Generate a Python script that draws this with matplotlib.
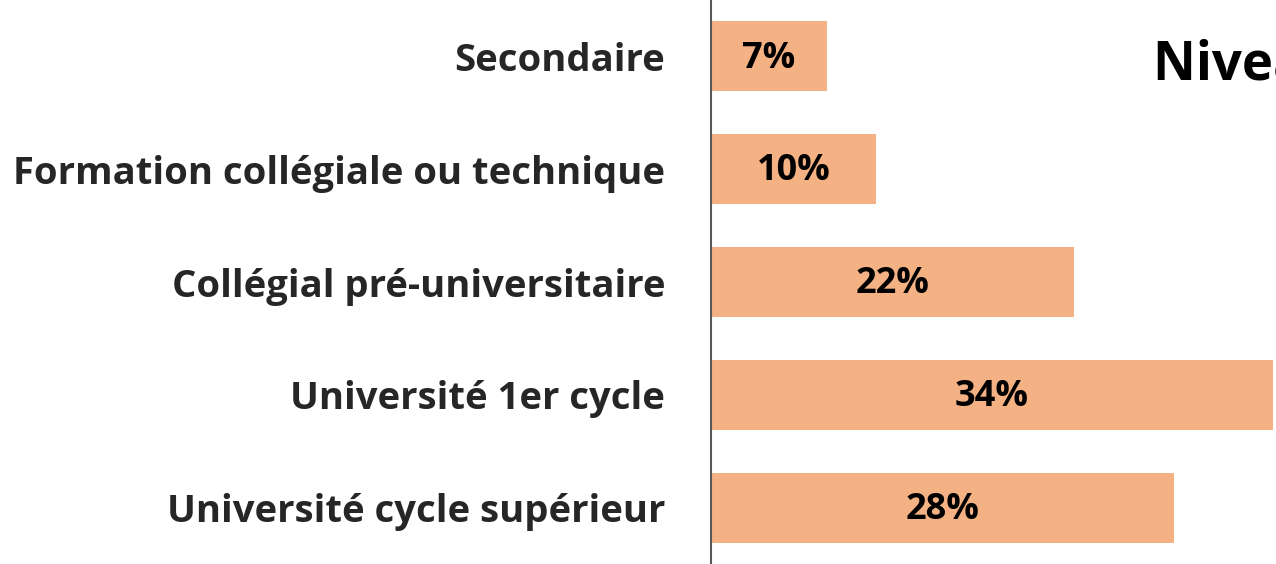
import matplotlib
matplotlib.use('agg')
import matplotlib.pyplot as plt

categories = ['Secondaire', 'Formation collégiale ou technique',
              'Collégial pré-universitaire', 'Université 1er cycle',
              'Université cycle supérieur']
values = [7, 10, 22, 34, 28]
value_labels = ['7%', '10%', '22%', '34%', '28%']

plt.rcParams['font.family'] = ['Open Sans', 'DejaVu Sans']

W, H = 1276, 564
fig = plt.figure(figsize=(W/100, H/100), dpi=100)
ax = fig.add_axes([711/W, 0, (W-711)/W, 1])

ypos = list(range(len(categories)))
ax.barh(ypos, values, height=0.62, color='#F4B183', zorder=2)
ax.set_ylim(4.5, -0.5)
ax.set_xlim(0, 34.2)

for y, v, lab in zip(ypos, values, value_labels):
    ax.text(v/2, y + 0.02, lab, ha='center', va='center', fontsize=26,
            fontweight='bold', color='black')

ax.set_yticks(ypos)
ax.set_yticklabels(categories, fontsize=27.5, fontweight='bold', color='#262626')
ax.tick_params(axis='y', length=0, pad=33)
ax.set_xticks([])
for s in ['top', 'right', 'bottom']:
    ax.spines[s].set_visible(False)
ax.spines['left'].set_color('#595959')
ax.spines['left'].set_linewidth(1.5)

# titre coupé au bord droit, comme dans l'original
fig.text(1153/W, 1 - 79/H, 'Niveau de scolarité', fontsize=38,
         fontweight='bold', color='black', ha='left', va='baseline')

fig.savefig('out.png', dpi=100)
